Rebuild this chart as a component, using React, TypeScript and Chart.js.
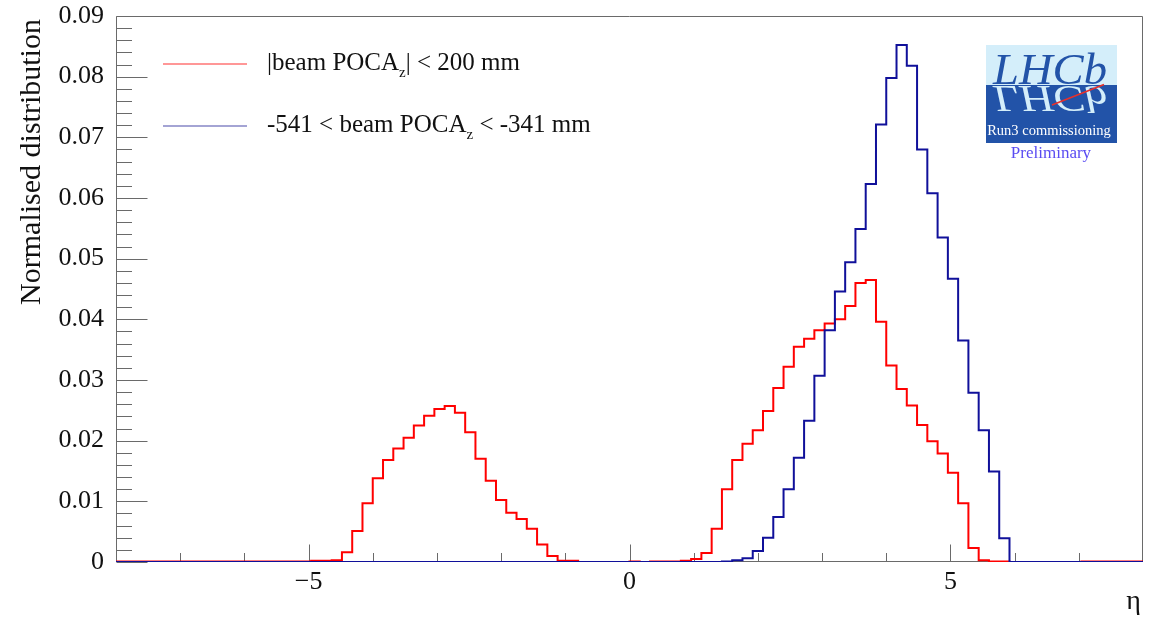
import React, { useEffect, useRef } from "react";
import { Chart, registerables } from "chart.js";

Chart.register(...registerables);

// ---- Data ----
const X_MIN = -8;
const X_MAX = 8;
const Y_MIN = 0;
const Y_MAX = 0.09;

// |beam POCA_z| < 200 mm  (100 bins from -8 to 8)
const redValues = [
  0.0001, 0.0001, 0.0001, 0.0001, 0.0001, 0.0001, 0.0001, 0.0001, 0.0001, 0.0001,
  0.0001, 0.0001, 0.0001, 0.0001, 0.0001, 0.0001, 0.0001, 0.0001, 0.0001, 0.0002,
  0.0002, 0.0003, 0.0016, 0.0051, 0.0097, 0.0138, 0.0168, 0.0187, 0.0205, 0.0225,
  0.0241, 0.0252, 0.0257, 0.0246, 0.0214, 0.0170, 0.0134, 0.0102, 0.0081, 0.0071,
  0.0055, 0.0029, 0.0010, 0.0002, 0.0002, 0, 0, 0, 0, 0,
  0.0001, 0, 0.0001, 0.0001, 0.0001, 0.0002, 0.0005, 0.0015, 0.0055, 0.0120,
  0.0168, 0.0195, 0.0217, 0.0249, 0.0287, 0.0322, 0.0355, 0.0368, 0.0382, 0.0393,
  0.0400, 0.0422, 0.0460, 0.0465, 0.0396, 0.0324, 0.0285, 0.0258, 0.0226, 0.0199,
  0.0179, 0.0147, 0.0097, 0.0023, 0.0003, 0.0001, 0.0001, 0, 0, 0,
  0, 0, 0, 0, 0.0001, 0.0001, 0.0001, 0.0001, 0.0001, 0.0001,
];

// -541 < beam POCA_z < -341 mm
const blueValues = [
  0, 0, 0, 0, 0, 0, 0, 0, 0, 0,
  0, 0, 0, 0, 0, 0, 0, 0, 0, 0,
  0, 0, 0, 0, 0, 0, 0, 0, 0, 0,
  0, 0, 0, 0, 0, 0, 0, 0, 0, 0,
  0, 0, 0, 0, 0, 0, 0, 0, 0, 0,
  0, 0, 0, 0, 0, 0, 0, 0, 0, 0.0001,
  0.0003, 0.0006, 0.0018, 0.0040, 0.0074, 0.0120, 0.0172, 0.0233, 0.0307, 0.0382,
  0.0446, 0.0494, 0.0549, 0.0623, 0.0721, 0.0798, 0.0852, 0.0818, 0.0680, 0.0608,
  0.0535, 0.0467, 0.0365, 0.0279, 0.0217, 0.0149, 0.0039, 0, 0, 0,
  0, 0, 0, 0, 0, 0, 0, 0, 0, 0,
];

const yMajorTicks = [0, 0.01, 0.02, 0.03, 0.04, 0.05, 0.06, 0.07, 0.08, 0.09];
const yTickLabels = ["0", "0.01", "0.02", "0.03", "0.04", "0.05", "0.06", "0.07", "0.08", "0.09"];
const yMinorDivisions = 5;
const xMajorTicks = [-5, 0, 5];
const xTickLabels = ["\u22125", "0", "5"];
const xMinorTicks = [-7, -6, -4, -3, -2, -1, 1, 2, 3, 4, 6, 7];

const xTitle = "\u03b7";
const yTitle = "Normalised distribution";

const RED = "#ff0000";
const BLUE = "#10109a";
const SERIF = "'Liberation Serif', 'DejaVu Serif', serif";

function histPoints(values: number[]) {
  const w = (X_MAX - X_MIN) / values.length;
  const pts = values.map((v, i) => ({ x: X_MIN + i * w, y: v }));
  pts.push({ x: X_MAX, y: values[values.length - 1] });
  return pts;
}

const rootAxesPlugin = {
  id: "rootAxes",
  beforeDatasetsDraw(chart: any) {
    const { ctx, chartArea: a, scales } = chart;
    const xs = scales.x;
    const ys = scales.y;
    ctx.save();
    ctx.strokeStyle = "#6a6a6a";
    ctx.lineWidth = 1;
    ctx.beginPath();
    const L = Math.round(a.left) + 0.5;
    const T = Math.round(a.top) + 0.5;
    const R = Math.round(a.right) - 0.5;
    const B = Math.round(a.bottom) - 0.5;
    ctx.moveTo(L, T);
    ctx.lineTo(R, T);
    ctx.lineTo(R, B);
    ctx.lineTo(L, B);
    ctx.closePath();
    // y ticks (inside)
    for (let k = 0; k < yMajorTicks.length; k++) {
      const v = yMajorTicks[k];
      const y = Math.round(ys.getPixelForValue(v)) + 0.5;
      ctx.moveTo(L, y);
      ctx.lineTo(L + 31, y);
      if (k < yMajorTicks.length - 1) {
        const step = (yMajorTicks[k + 1] - v) / yMinorDivisions;
        for (let m = 1; m < yMinorDivisions; m++) {
          const ym = Math.round(ys.getPixelForValue(v + m * step)) + 0.5;
          ctx.moveTo(L, ym);
          ctx.lineTo(L + 15.5, ym);
        }
      }
    }
    // x ticks (inside)
    for (const v of xMajorTicks) {
      const x = Math.round(xs.getPixelForValue(v)) + 0.5;
      ctx.moveTo(x, B);
      ctx.lineTo(x, B - 17);
    }
    for (const v of xMinorTicks) {
      const x = Math.round(xs.getPixelForValue(v)) + 0.5;
      ctx.moveTo(x, B);
      ctx.lineTo(x, B - 8.5);
    }
    ctx.stroke();
    ctx.restore();
  },
  afterDraw(chart: any) {
    const { ctx, chartArea: a, scales } = chart;
    const xs = scales.x;
    const ys = scales.y;
    ctx.save();
    ctx.fillStyle = "#111";
    ctx.font = `26px ${SERIF}`;
    ctx.textAlign = "right";
    ctx.textBaseline = "middle";
    yMajorTicks.forEach((v, i) => {
      ctx.fillText(yTickLabels[i], 104, ys.getPixelForValue(v));
    });
    ctx.textAlign = "center";
    ctx.textBaseline = "alphabetic";
    xMajorTicks.forEach((v, i) => {
      ctx.fillText(xTickLabels[i], xs.getPixelForValue(v), 589);
    });
    // x title
    ctx.textAlign = "right";
    ctx.font = `28px ${SERIF}`;
    ctx.fillText(xTitle, a.right - 2, 609);
    // y title
    ctx.font = `30px ${SERIF}`;
    ctx.translate(40, 162);
    ctx.rotate(-Math.PI / 2);
    ctx.textAlign = "center";
    ctx.fillText(yTitle, 0, 0);
    ctx.restore();
  },
};

export default function App() {
  const canvasRef = useRef<HTMLCanvasElement | null>(null);

  useEffect(() => {
    const canvas = canvasRef.current;
    if (!canvas) return;
    const chart = new Chart(canvas, {
      type: "line",
      data: {
        datasets: [
          {
            label: "|beam POCA_z| < 200 mm",
            data: histPoints(redValues),
            borderColor: RED,
            borderWidth: 2,
            stepped: "before",
            pointRadius: 0,
            fill: false,
            order: 2,
          },
          {
            label: "-541 < beam POCA_z < -341 mm",
            data: histPoints(blueValues),
            borderColor: BLUE,
            borderWidth: 2,
            stepped: "before",
            pointRadius: 0,
            fill: false,
            order: 1,
          },
        ],
      },
      options: {
        animation: false,
        responsive: false,
        devicePixelRatio: 1,
        layout: { padding: { left: 116, right: 12, top: 16, bottom: 55 } },
        plugins: { legend: { display: false }, tooltip: { enabled: false } },
        scales: {
          x: { type: "linear", min: X_MIN, max: X_MAX, display: false },
          y: { type: "linear", min: Y_MIN, max: Y_MAX, display: false },
        },
      },
      plugins: [rootAxesPlugin],
    } as any);
    return () => chart.destroy();
  }, []);

  return (
    <div style={{ position: "absolute", left: 0, top: 0, width: 1155, height: 617, background: "#fff" }}>
      <canvas ref={canvasRef} width={1155} height={617} style={{ display: "block" }} />
      <svg
        width={1155}
        height={617}
        style={{ position: "absolute", left: 0, top: 0, pointerEvents: "none" }}
      >
        {/* Legend */}
        <line x1={163} y1={64} x2={247} y2={64} stroke="#ff3030" strokeWidth={1.2} />
        <text x={267} y={70} fontFamily={SERIF} fontSize={25} fill="#111">
          |beam POCA
          <tspan fontSize={15} dy={7}>z</tspan>
          <tspan dy={-7}>| &lt; 200 mm</tspan>
        </text>
        <line x1={163} y1={126} x2={247} y2={126} stroke="#4a4aaa" strokeWidth={1.2} />
        <text x={267} y={132} fontFamily={SERIF} fontSize={25} fill="#111">
          -541 &lt; beam POCA
          <tspan fontSize={15} dy={7}>z</tspan>
          <tspan dy={-7}> &lt; -341 mm</tspan>
        </text>

        {/* LHCb logo */}
        <defs>
          <clipPath id="lhcbTop">
            <rect x={986} y={45} width={131} height={40} />
          </clipPath>
          <clipPath id="lhcbBottom">
            <rect x={986} y={85} width={131} height={58} />
          </clipPath>
        </defs>
        <rect x={986} y={45} width={131} height={40} fill="#d4eefa" />
        <rect x={986} y={85} width={131} height={58} fill="#2253a8" />
        <text
          x={993}
          y={84}
          fontFamily={SERIF}
          fontStyle="italic"
          fontSize={44}
          fill="#2253a8"
          textLength={114}
          lengthAdjust="spacingAndGlyphs"
          clipPath="url(#lhcbTop)"
        >
          LHCb
        </text>
        <g clipPath="url(#lhcbBottom)">
          <text
            x={993}
            y={84}
            fontFamily={SERIF}
            fontStyle="italic"
            fontSize={44}
            fill="#d4eefa"
            textLength={114}
            lengthAdjust="spacingAndGlyphs"
            transform="translate(0 85) scale(1 -0.85) translate(0 -85)"
          >
            LHCb
          </text>
        </g>
        <line x1={1052} y1={105} x2={1104} y2={84.5} stroke="#e8302a" strokeWidth={1.6} />
        <text x={1049} y={135} textAnchor="middle" fontFamily={SERIF} fontSize={14.5} fill="#ffffff">
          Run3 commissioning
        </text>
        <text x={1051} y={158} textAnchor="middle" fontFamily={SERIF} fontSize={17} fill="#5a4cf2">
          Preliminary
        </text>
      </svg>
    </div>
  );
}
